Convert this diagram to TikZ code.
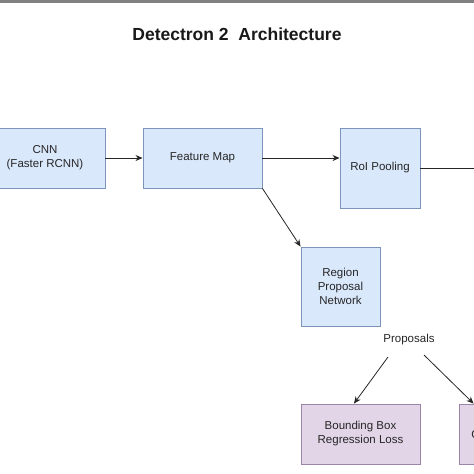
\documentclass[tikz,border=0pt]{standalone}
\usepackage{fontspec}
\setmainfont{Liberation Sans}
\usetikzlibrary{arrows.meta,calc}
\definecolor{bluefill}{HTML}{DAE8FC}
\definecolor{blueline}{HTML}{7C95BA}
\definecolor{purplefill}{HTML}{E1D5E7}
\definecolor{purpleline}{HTML}{9A85A8}
\definecolor{txt}{HTML}{262626}
\tikzset{
  box/.style={draw=blueline, fill=bluefill, line width=0.9pt, text=txt, align=center,
    inner sep=0pt, font=\fontsize{11.5}{14}\selectfont},
  lossbox/.style={box, draw=purpleline, fill=purplefill},
  arr/.style={draw=black!85, line width=0.8pt, -{Stealth[length=7pt,width=6pt]}},
  plain/.style={draw=black!85, line width=0.8pt},
  lbl/.style={text=txt, font=\fontsize{11.5}{14}\selectfont, inner sep=0pt}
}
\begin{document}
\begin{tikzpicture}[x=1pt,y=-1pt]
\useasboundingbox (0,0) rectangle (474,474);
\fill[white] (0,0) rectangle (474,474);
\clip (0,0) rectangle (474,474);
\fill[black!50] (0,0) rectangle (474,2.5);
\node[font=\fontsize{17.5}{20}\selectfont\bfseries, text=black!90] (title) at (237,34) {Detectron 2\ \ Architecture};
\node[box, minimum width=120pt, minimum height=60pt] (cnn) at (45,158) {CNN\\(Faster RCNN)};
\node[box, minimum width=119pt, minimum height=60pt] (fm) at (202.5,158) {Feature Map};
\node[box, minimum width=80pt, minimum height=80pt] (roi) at (380,168) {RoI Pooling};
\node[box, minimum width=79pt, minimum height=79pt] (rpn) at (340.5,286.5) {Region\\Proposal\\Network};
\node[lbl] (prop) at (409,340) {Proposals};
\node[lossbox, minimum width=119pt, minimum height=60pt] (bbox) at (360.5,434) {Bounding Box\\Regression Loss};
\node[lossbox, minimum width=120pt, minimum height=60pt] (cls) at (519,434) {Classification Loss};
\coordinate (roiout) at (476,168);
\coordinate (p1) at (388,357);
\coordinate (p2) at (424,355);
\draw[arr] (cnn.east) -- (fm.west);
\draw[arr] (fm.east) -- (roi.west |- fm.east);
\draw[plain] (roi.east) -- (roiout);
\draw[arr] (fm.south east) -- (rpn.north west);
\draw[arr] (p1) -- ($(bbox.north)+(-6.5,0)$);
\draw[arr] (p2) -- ($(cls.north west)+(15,0)$);
\end{tikzpicture}
\end{document}
